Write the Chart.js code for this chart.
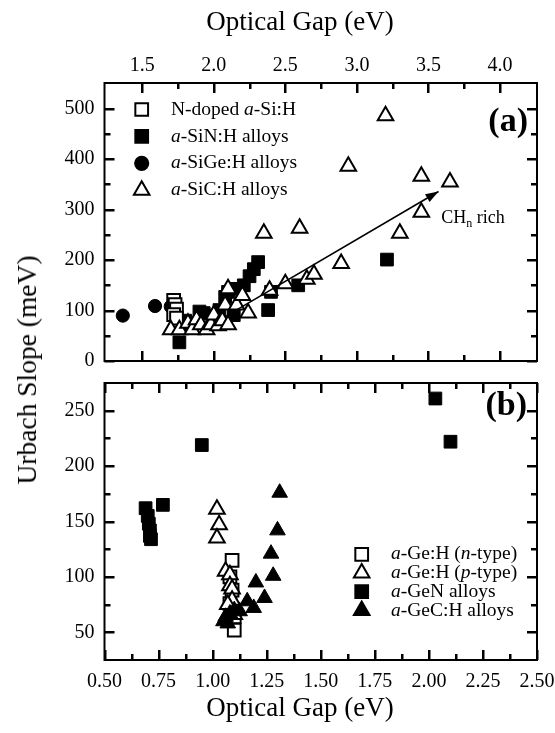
<!DOCTYPE html>
<html>
<head>
<meta charset="utf-8">
<script src="https://cdn.jsdelivr.net/npm/chart.js@4.4.1/dist/chart.umd.min.js"></script>
<style>
  html, body { margin: 0; padding: 0; background: #fff; }
  #wrap { position: relative; width: 555px; height: 733px; }
  #ca { position: absolute; left: 0; top: 0; }
  #cb { position: absolute; left: 0; top: 372px; }
  #ytitle {
    position: absolute; left: 27px; top: 370px;
    transform: translate(-50%, -50%) rotate(-90deg);
    font: 27.5px "Liberation Serif", serif; color: #000; white-space: nowrap;
  }
</style>
</head>
<body>
<div id="wrap">
  <canvas id="ca" width="555" height="372"></canvas>
  <canvas id="cb" width="555" height="361"></canvas>
  <div id="ytitle">Urbach Slope (meV)</div>
</div>
<script>
// ---- panel (a): Si based films, [optical gap eV, Urbach slope meV]
const nDopedSi = [[1.72, 120], [1.73, 112], [1.74, 103], [1.72, 92], [1.74, 85]];
const siNAlloys = [[1.76, 37], [1.80, 80], [1.90, 98], [1.93, 95], [2.00, 90], [2.04, 101],
  [2.08, 127], [2.10, 137], [2.14, 91], [2.16, 143], [2.21, 150], [2.25, 168], [2.28, 182],
  [2.31, 196], [2.38, 101], [2.40, 137], [2.59, 150], [3.21, 201]];
const siGeAlloys = [[1.365, 90], [1.59, 109], [1.70, 108], [1.73, 100], [1.79, 74]];
const siCAlloys = [[1.70, 62], [1.76, 62], [1.82, 75], [1.85, 62], [1.88, 82], [1.91, 72],
  [1.95, 62], [1.98, 72], [2.00, 91], [2.03, 70], [2.06, 80], [2.08, 111], [2.10, 143],
  [2.10, 72], [2.16, 111], [2.20, 130], [2.24, 95], [2.35, 253], [2.39, 140], [2.50, 153],
  [2.60, 263], [2.65, 162], [2.70, 172], [2.89, 193], [2.94, 386], [3.20, 486], [3.30, 253],
  [3.45, 366], [3.45, 295], [3.65, 355]];
const chnArrow = [[2.08, 88], [3.57, 336]];

// ---- panel (b): Ge based films
const geHnType = [[1.09, 115], [1.08, 100], [1.09, 88], [1.08, 76], [1.09, 70], [1.10, 64], [1.10, 52]];
const geHpType = [[1.02, 161], [1.03, 147], [1.02, 135], [1.06, 105], [1.08, 102], [1.08, 92],
  [1.09, 89], [1.09, 79], [1.07, 75], [1.10, 66]];
const geNAlloys = [[0.69, 162], [0.70, 155], [0.705, 148], [0.71, 142], [0.71, 137], [0.715, 134],
  [0.77, 165], [0.95, 219], [2.03, 261], [2.10, 222]];
const geCAlloys = [[1.05, 60], [1.06, 64], [1.07, 58], [1.08, 67], [1.10, 70], [1.125, 69],
  [1.16, 78], [1.19, 72], [1.20, 95], [1.24, 81], [1.27, 121], [1.28, 101], [1.30, 142], [1.31, 176]];

// ---- tick labels
const xTicksA = [1.5, 2.0, 2.5, 3.0, 3.5, 4.0];
const yTicksA = [0, 100, 200, 300, 400, 500];
const xTicksB = [0.5, 0.75, 1.0, 1.25, 1.5, 1.75, 2.0, 2.25, 2.5];
const yTicksB = [50, 100, 150, 200, 250];

const serif = '"Liberation Serif", "Times New Roman", serif';
const pts = a => a.map(p => ({ x: p[0], y: p[1] }));

function minors(major, lo, hi) {
  const step = major[1] - major[0], out = [];
  [major[0] - step].concat(major).forEach(m => {
    const v = m + step / 2;
    if (v > lo + step * 0.1 && v < hi - step * 0.1) out.push(v);
  });
  return out;
}

function drawMarker(ctx, style, r, fill, x, y) {
  ctx.beginPath();
  if (style === 'rect') {
    const s = r * Math.SQRT1_2;
    ctx.rect(x - s, y - s, 2 * s, 2 * s);
  } else if (style === 'circle') {
    ctx.arc(x, y, r, 0, Math.PI * 2);
  } else {
    ctx.moveTo(x, y - r);
    ctx.lineTo(x + 0.866 * r, y + r / 2);
    ctx.lineTo(x - 0.866 * r, y + r / 2);
    ctx.closePath();
  }
  ctx.fillStyle = fill;
  ctx.fill();
  ctx.lineWidth = 2;
  ctx.strokeStyle = '#000';
  ctx.stroke();
}

// frame, inward ticks, legend, titles and notes for one panel
function panelDecor(cfg) {
  return {
    id: 'panelDecor',
    afterDraw(chart) {
      const ctx = chart.ctx;
      const ca = chart.chartArea;
      const L = ca.left, R = ca.right, T = ca.top, B = ca.bottom;
      const xs = chart.scales.x, ys = chart.scales.y;
      ctx.save();
      // frame
      ctx.strokeStyle = '#000';
      ctx.lineWidth = 2;
      ctx.strokeRect(L, T, R - L, B - T);
      // inward ticks
      ctx.fillStyle = '#000';
      const w = 2.5;
      const xm = (list, len) => list.forEach(v => {
        const p = Math.round(xs.getPixelForValue(v));
        ctx.fillRect(p - 1, T, w, len);
        ctx.fillRect(p - 1, B - len, w, len);
      });
      const ym = (list, len) => list.forEach(v => {
        const p = Math.round(ys.getPixelForValue(v));
        ctx.fillRect(L, p - 1, len, w);
        ctx.fillRect(R - len, p - 1, len, w);
      });
      xm(cfg.xMajor, 10); xm(minors(cfg.xMajor, xs.min, xs.max), 6);
      ym(cfg.yMajor, 10); ym(minors(cfg.yMajor, ys.min, ys.max), 6);

      // axis title
      ctx.textAlign = 'center';
      ctx.textBaseline = 'middle';
      ctx.font = '27px ' + serif;
      ctx.fillText('Optical Gap (eV)', cfg.titleX, cfg.titleY);

      // legend
      const lg = cfg.legend;
      ctx.textAlign = 'left';
      lg.items.forEach((it, i) => {
        const ds = chart.data.datasets[it.ds];
        const y = lg.y + i * lg.gap;
        drawMarker(ctx, ds.pointStyle, ds.pointRadius, ds.backgroundColor, lg.markerX, y);
        let x = lg.textX;
        ctx.fillStyle = '#000';
        it.parts.forEach(([txt, italic]) => {
          ctx.font = (italic ? 'italic ' : '') + lg.size + 'px ' + serif;
          ctx.fillText(txt, x, y);
          x += ctx.measureText(txt).width;
        });
      });

      // panel letter
      ctx.font = 'bold 34px ' + serif;
      ctx.textAlign = 'right';
      ctx.textBaseline = 'alphabetic';
      ctx.fillText(cfg.letter, cfg.letterX, cfg.letterY);

      // arrow head + CHn rich note
      if (cfg.arrow) {
        const el = chart.getDatasetMeta(0).data;
        const a = el[el.length - 2], b = el[el.length - 1];
        ctx.save();
        ctx.translate(b.x, b.y);
        ctx.rotate(Math.atan2(b.y - a.y, b.x - a.x));
        ctx.beginPath();
        ctx.moveTo(0, 0);
        ctx.lineTo(-13, -4.5);
        ctx.lineTo(-13, 4.5);
        ctx.closePath();
        ctx.fill();
        ctx.restore();
        let x = xs.getPixelForValue(cfg.noteAt[0]);
        const y = ys.getPixelForValue(cfg.noteAt[1]);
        ctx.textAlign = 'left';
        ctx.textBaseline = 'middle';
        ctx.font = '18px ' + serif;
        ctx.fillText('CH', x, y);
        x += ctx.measureText('CH').width;
        ctx.font = '12px ' + serif;
        ctx.fillText('n', x, y + 5);
        x += ctx.measureText('n').width;
        ctx.font = '18px ' + serif;
        ctx.fillText(' rich', x, y);
      }
      ctx.restore();
    }
  };
}

function scatterSet(label, data, style, fill, order) {
  return {
    label, data: pts(data), pointStyle: style,
    pointRadius: style === 'circle' ? 6.6 : 9, pointHoverRadius: style === 'circle' ? 6.6 : 9,
    backgroundColor: fill, borderColor: '#000', borderWidth: fill === '#fff' ? 2 : 1, order
  };
}

function axisX(pos, min, max, ticks, digits, height, pad) {
  return {
    type: 'linear', position: pos, min, max,
    afterBuildTicks: s => { s.ticks = ticks.map(v => ({ value: v })); },
    afterFit: s => { s.height = height; s.paddingLeft = 0; s.paddingRight = 0; },
    grid: { display: false, drawTicks: false }, border: { display: false },
    ticks: { autoSkip: false, maxRotation: 0, padding: pad, color: '#000',
      font: { family: serif, size: 20 }, callback: v => Number(v).toFixed(digits) }
  };
}

function axisY(min, max, ticks) {
  return {
    min, max,
    afterBuildTicks: s => { s.ticks = ticks.map(v => ({ value: v })); },
    afterFit: s => { s.width = 104.5; s.paddingTop = 0; s.paddingBottom = 0; },
    grid: { display: false, drawTicks: false }, border: { display: false },
    ticks: { padding: 10, color: '#000', font: { family: serif, size: 20 } }
  };
}

// ---- chart (a)
new Chart(document.getElementById('ca'), {
  type: 'scatter',
  data: {
    datasets: [
      { label: 'CHn rich', data: pts(chnArrow), showLine: true, borderColor: '#000', borderWidth: 1.6,
        pointRadius: 0, pointHoverRadius: 0, order: 0 },
      scatterSet('a-SiC:H alloys', siCAlloys, 'triangle', '#fff', 1),
      scatterSet('N-doped a-Si:H', nDopedSi, 'rect', '#fff', 2),
      scatterSet('a-SiGe:H alloys', siGeAlloys, 'circle', '#000', 3),
      scatterSet('a-SiN:H alloys', siNAlloys, 'rect', '#000', 4)
    ]
  },
  options: {
    responsive: false, animation: false, devicePixelRatio: 1,
    layout: { padding: { left: 0, right: 18, top: 0, bottom: 5 } },
    scales: {
      x: axisX('top', 1.237, 4.258, xTicksA, 1, 83, 5.5),
      y: axisY(0, 551, yTicksA)
    },
    plugins: { legend: { display: false }, tooltip: { enabled: false } }
  },
  plugins: [panelDecor({
    xMajor: xTicksA, yMajor: yTicksA, titleX: 300, titleY: 23,
    legend: { markerX: 141.7, textX: 171, y: 109.5, gap: 26.9, size: 19.5, items: [
      { ds: 2, parts: [['N-doped ', false], ['a', true], ['-Si:H', false]] },
      { ds: 4, parts: [['a', true], ['-SiN:H alloys', false]] },
      { ds: 3, parts: [['a', true], ['-SiGe:H alloys', false]] },
      { ds: 1, parts: [['a', true], ['-SiC:H alloys', false]] }
    ] },
    letter: '(a)', letterX: 528, letterY: 131, arrow: true, noteAt: [3.59, 282]
  })]
});

// ---- chart (b)
new Chart(document.getElementById('cb'), {
  type: 'scatter',
  data: {
    datasets: [
      scatterSet('a-GeC:H alloys', geCAlloys, 'triangle', '#000', 1),
      scatterSet('a-Ge:H (p-type)', geHpType, 'triangle', '#fff', 2),
      scatterSet('a-Ge:H (n-type)', geHnType, 'rect', '#fff', 3),
      scatterSet('a-GeN alloys', geNAlloys, 'rect', '#000', 4)
    ]
  },
  options: {
    responsive: false, animation: false, devicePixelRatio: 1,
    layout: { padding: { left: 0, right: 18, top: 3, bottom: 0 } },
    scales: {
      x: axisX('bottom', 0.5, 2.5, xTicksB, 2, 73, 10),
      y: axisY(25, 275, yTicksB)
    },
    plugins: { legend: { display: false }, tooltip: { enabled: false } }
  },
  plugins: [panelDecor({
    xMajor: xTicksB, yMajor: yTicksB, titleX: 300, titleY: 337,
    legend: { markerX: 361.7, textX: 391, y: 182.3, gap: 18.7, size: 19.5, items: [
      { ds: 2, parts: [['a', true], ['-Ge:H (', false], ['n', true], ['-type)', false]] },
      { ds: 1, parts: [['a', true], ['-Ge:H (', false], ['p', true], ['-type)', false]] },
      { ds: 3, parts: [['a', true], ['-GeN alloys', false]] },
      { ds: 0, parts: [['a', true], ['-GeC:H alloys', false]] }
    ] },
    letter: '(b)', letterX: 527, letterY: 43, arrow: false
  })]
});
</script>
</body>
</html>
